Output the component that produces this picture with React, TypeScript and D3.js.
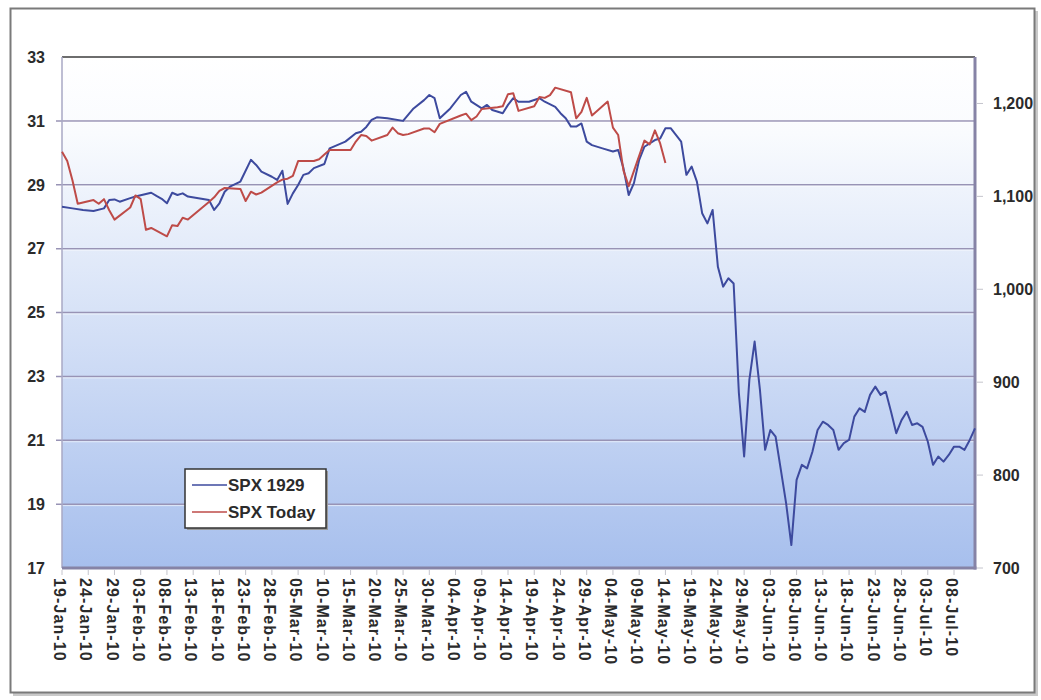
import React, { useEffect, useRef } from 'react';
import * as d3 from 'd3';

// date axis runs from the first 2010 session to 12-Jul
const axisStart = '2010-01-19';
const axisEnd = '2010-07-12';
const labelStepDays = 5;

// SPX 1929 (left axis), laid over the 2010 calendar
const spx1929Dates = [
  '2010-01-19', '2010-01-21', '2010-01-23', '2010-01-25', '2010-01-27', '2010-01-28', '2010-01-29', '2010-01-30',
  '2010-02-01', '2010-02-02', '2010-02-05', '2010-02-06', '2010-02-07', '2010-02-08', '2010-02-09', '2010-02-10',
  '2010-02-11', '2010-02-12', '2010-02-14', '2010-02-16', '2010-02-17', '2010-02-18', '2010-02-19', '2010-02-20',
  '2010-02-22', '2010-02-24', '2010-02-25', '2010-02-26', '2010-02-28',
  '2010-03-01', '2010-03-02', '2010-03-03', '2010-03-04', '2010-03-05', '2010-03-06', '2010-03-07', '2010-03-08',
  '2010-03-10', '2010-03-11', '2010-03-14', '2010-03-16', '2010-03-17', '2010-03-18', '2010-03-19', '2010-03-20',
  '2010-03-22', '2010-03-25', '2010-03-27', '2010-03-29', '2010-03-30', '2010-03-31',
  '2010-04-01', '2010-04-03', '2010-04-05', '2010-04-06', '2010-04-07', '2010-04-09', '2010-04-10', '2010-04-11',
  '2010-04-13', '2010-04-14', '2010-04-15', '2010-04-16', '2010-04-18', '2010-04-20', '2010-04-21', '2010-04-23',
  '2010-04-24', '2010-04-25', '2010-04-26', '2010-04-27', '2010-04-28', '2010-04-29', '2010-04-30',
  '2010-05-02', '2010-05-04', '2010-05-05', '2010-05-06', '2010-05-07', '2010-05-08', '2010-05-09', '2010-05-10',
  '2010-05-12', '2010-05-13', '2010-05-14', '2010-05-15', '2010-05-16', '2010-05-17', '2010-05-18', '2010-05-19',
  '2010-05-20', '2010-05-21', '2010-05-22', '2010-05-23', '2010-05-24', '2010-05-25', '2010-05-26', '2010-05-27',
  '2010-05-28', '2010-05-29', '2010-05-30', '2010-05-31',
  '2010-06-01', '2010-06-02', '2010-06-03', '2010-06-04', '2010-06-05', '2010-06-06', '2010-06-07', '2010-06-08',
  '2010-06-09', '2010-06-10', '2010-06-11', '2010-06-12', '2010-06-13', '2010-06-14', '2010-06-15', '2010-06-16',
  '2010-06-17', '2010-06-18', '2010-06-19', '2010-06-20', '2010-06-21', '2010-06-22', '2010-06-23', '2010-06-24',
  '2010-06-25', '2010-06-26', '2010-06-27', '2010-06-28', '2010-06-29', '2010-06-30',
  '2010-07-01', '2010-07-02', '2010-07-03', '2010-07-04', '2010-07-05', '2010-07-06', '2010-07-07', '2010-07-08',
  '2010-07-09', '2010-07-10', '2010-07-11', '2010-07-12'
];
const spx1929Values = [
  28.31, 28.26, 28.21, 28.18, 28.26, 28.52, 28.54, 28.47,
  28.58, 28.63, 28.75, 28.65, 28.56, 28.42, 28.75, 28.68,
  28.73, 28.63, 28.58, 28.52, 28.21, 28.42, 28.78, 28.94,
  29.10, 29.78, 29.62, 29.41, 29.25,
  29.15, 29.44, 28.40, 28.73, 28.99, 29.31, 29.36, 29.52,
  29.65, 30.14, 30.35, 30.61, 30.66, 30.81, 31.03, 31.11,
  31.08, 31.00, 31.39, 31.65, 31.81, 31.71,
  31.08, 31.39, 31.81, 31.91, 31.60, 31.39, 31.50, 31.34,
  31.24, 31.50, 31.71, 31.60, 31.60, 31.71, 31.60, 31.44,
  31.24, 31.08, 30.82, 30.82, 30.92, 30.35, 30.24,
  30.14, 30.04, 30.09, 29.52, 28.68, 29.05, 29.78, 30.19,
  30.40, 30.45, 30.77, 30.77, 30.56, 30.35, 29.31, 29.57,
  29.10, 28.11, 27.79, 28.21, 26.43, 25.81, 26.07, 25.91,
  22.48, 20.49, 22.90, 24.09,
  22.60, 20.70, 21.32, 21.11, 20.07, 19.03, 17.72, 19.76,
  20.23, 20.12, 20.63, 21.32, 21.58, 21.48, 21.32, 20.70,
  20.91, 21.01, 21.74, 22.00, 21.89, 22.42, 22.68, 22.42,
  22.52, 21.89, 21.22, 21.63, 21.89, 21.48,
  21.53, 21.42, 20.96, 20.23, 20.49, 20.33, 20.54, 20.80,
  20.80, 20.70, 21.01, 21.37
];

// SPX Today (right axis)
const spxTodayDates = [
  '2010-01-19', '2010-01-20', '2010-01-21', '2010-01-22', '2010-01-25', '2010-01-26', '2010-01-27', '2010-01-28', '2010-01-29',
  '2010-02-01', '2010-02-02', '2010-02-03', '2010-02-04', '2010-02-05', '2010-02-08', '2010-02-09', '2010-02-10',
  '2010-02-11', '2010-02-12', '2010-02-16', '2010-02-17', '2010-02-18', '2010-02-19', '2010-02-22', '2010-02-23',
  '2010-02-24', '2010-02-25', '2010-02-26',
  '2010-03-01', '2010-03-02', '2010-03-03', '2010-03-04', '2010-03-05', '2010-03-08', '2010-03-09', '2010-03-10',
  '2010-03-11', '2010-03-12', '2010-03-15', '2010-03-16', '2010-03-17', '2010-03-18', '2010-03-19', '2010-03-22',
  '2010-03-23', '2010-03-24', '2010-03-25', '2010-03-26', '2010-03-29', '2010-03-30', '2010-03-31',
  '2010-04-01', '2010-04-05', '2010-04-06', '2010-04-07', '2010-04-08', '2010-04-09', '2010-04-12', '2010-04-13',
  '2010-04-14', '2010-04-15', '2010-04-16', '2010-04-19', '2010-04-20', '2010-04-21', '2010-04-22', '2010-04-23',
  '2010-04-26', '2010-04-27', '2010-04-28', '2010-04-29', '2010-04-30',
  '2010-05-03', '2010-05-04', '2010-05-05', '2010-05-06', '2010-05-07', '2010-05-10', '2010-05-11', '2010-05-12',
  '2010-05-13', '2010-05-14'
];
const spxTodayValues = [
  1148, 1138, 1117, 1092, 1096, 1092, 1097, 1085, 1075,
  1088, 1101, 1097, 1064, 1066, 1057, 1069, 1068,
  1077, 1075, 1094, 1099, 1106, 1109, 1108, 1095,
  1105, 1102, 1104,
  1115, 1118, 1119, 1122, 1138, 1138, 1140, 1145,
  1150, 1150, 1150, 1159, 1166, 1165, 1160, 1166,
  1174, 1168, 1166, 1167, 1173, 1173, 1169,
  1178, 1187, 1189, 1182, 1186, 1194, 1196, 1197,
  1210, 1211, 1192, 1197, 1207, 1206, 1209, 1217,
  1212, 1184, 1191, 1206, 1187,
  1202, 1174, 1166, 1128, 1111, 1160, 1156, 1171,
  1157, 1136
];

const leftDomain = [17, 33];
const leftTicks = [17, 19, 21, 23, 25, 27, 29, 31, 33];
const rightDomain = [700, 1250];
const rightTicks = [700, 800, 900, 1000, 1100, 1200];
const seriesNames = ['SPX 1929', 'SPX Today'];

const App = () => {
  const ref = useRef<SVGSVGElement>(null);

  useEffect(() => {
    drawChart();
  }, []);

  const drawChart = () => {
    const width = 1041;
    const height = 700;
    const plot = { left: 62, top: 57, right: 975, bottom: 568 };
    const font = '"Liberation Sans", Arial, sans-serif';
    const textColor = '#2b2b2b';
    const blue = '#3d4a9e';
    const red = '#be4b48';

    const root = d3.select(ref.current);
    root.selectAll('*').remove();
    const svg = root.attr('width', width).attr('height', height);

    const parse = d3.timeParse('%Y-%m-%d');
    const start = parse(axisStart) as Date;
    const end = parse(axisEnd) as Date;
    const x = d3.scaleTime().domain([start, end]).range([plot.left, plot.right]);
    const yLeft = d3.scaleLinear().domain(leftDomain).range([plot.bottom, plot.top]);
    const yRight = d3.scaleLinear().domain(rightDomain).range([plot.bottom, plot.top]);

    const defs = svg.append('defs');
    const grad = defs.append('linearGradient')
      .attr('id', 'plotFill')
      .attr('x1', 0).attr('y1', 0).attr('x2', 0).attr('y2', 1);
    grad.append('stop').attr('offset', '0%').attr('stop-color', '#ffffff');
    grad.append('stop').attr('offset', '15%').attr('stop-color', '#f9fbfe');
    grad.append('stop').attr('offset', '100%').attr('stop-color', '#a7bfed');

    // chart area frame
    svg.append('rect')
      .attr('x', 0).attr('y', 0).attr('width', width).attr('height', height)
      .attr('fill', '#ffffff');
    svg.append('rect')
      .attr('x', 13).attr('y', 11).attr('width', 1025).attr('height', 685)
      .attr('fill', '#c9c9c9');
    svg.append('rect')
      .attr('x', 10.5).attr('y', 8.5).attr('width', 1024).attr('height', 684)
      .attr('fill', '#ffffff').attr('stroke', '#7a7a7a').attr('stroke-width', 2);

    // plot area
    svg.append('rect')
      .attr('x', plot.left).attr('y', plot.top)
      .attr('width', plot.right - plot.left).attr('height', plot.bottom - plot.top)
      .attr('fill', 'url(#plotFill)');

    // gridlines
    const grid = svg.append('g');
    leftTicks.filter(t => t !== leftDomain[0] && t !== leftDomain[1]).forEach(t => {
      grid.append('line')
        .attr('x1', plot.left - 6).attr('x2', plot.right)
        .attr('y1', yLeft(t)).attr('y2', yLeft(t))
        .attr('stroke', '#9893b5').attr('stroke-width', 1.5);
      grid.append('line')
        .attr('x1', plot.left).attr('x2', plot.right)
        .attr('y1', yLeft(t) + 1.5).attr('y2', yLeft(t) + 1.5)
        .attr('stroke', '#ffffff').attr('stroke-opacity', 0.6).attr('stroke-width', 1);
    });

    // plot border
    svg.append('line')
      .attr('x1', plot.left).attr('x2', plot.right).attr('y1', plot.top).attr('y2', plot.top)
      .attr('stroke', '#3c3c3c').attr('stroke-width', 1.5);
    svg.append('line')
      .attr('x1', plot.left).attr('x2', plot.left).attr('y1', plot.top).attr('y2', plot.bottom)
      .attr('stroke', '#a9a8c4').attr('stroke-width', 1.5);
    svg.append('line')
      .attr('x1', plot.right).attr('x2', plot.right).attr('y1', plot.top).attr('y2', plot.bottom + 1.5)
      .attr('stroke', '#8683a6').attr('stroke-width', 3);
    svg.append('line')
      .attr('x1', plot.left).attr('x2', plot.right + 1.5).attr('y1', plot.bottom).attr('y2', plot.bottom)
      .attr('stroke', '#8683a6').attr('stroke-width', 3);

    // left axis
    const leftAxis = svg.append('g');
    leftTicks.forEach(t => {
      leftAxis.append('text')
        .attr('x', 45).attr('y', yLeft(t))
        .attr('dy', '0.36em')
        .attr('text-anchor', 'end')
        .style('font-family', font).style('font-weight', 'bold').style('font-size', '16px')
        .attr('fill', textColor)
        .text(t);
    });

    // right axis
    const rightAxis = svg.append('g');
    const fmtRight = d3.format(',');
    rightTicks.forEach(t => {
      rightAxis.append('line')
        .attr('x1', plot.right + 2).attr('x2', plot.right + 8)
        .attr('y1', yRight(t)).attr('y2', yRight(t))
        .attr('stroke', '#c4c4cc').attr('stroke-width', 1);
      rightAxis.append('text')
        .attr('x', 993).attr('y', yRight(t))
        .attr('dy', '0.36em')
        .attr('text-anchor', 'start')
        .style('font-family', font).style('font-weight', 'bold').style('font-size', '16px')
        .attr('fill', textColor)
        .text(fmtRight(t));
    });

    // date axis, a label every 5 days
    const fmtDate = d3.timeFormat('%d-%b-%y');
    const labelDates = d3.timeDay.range(start, d3.timeDay.offset(end, -3), labelStepDays);
    const xAxis = svg.append('g');
    labelDates.forEach(d => {
      const px = x(d);
      xAxis.append('line')
        .attr('x1', px).attr('x2', px)
        .attr('y1', plot.bottom + 2).attr('y2', plot.bottom + 7)
        .attr('stroke', '#c4c4cc').attr('stroke-width', 1);
      xAxis.append('text')
        .attr('transform', `translate(${px - 2},${plot.bottom + 10}) rotate(90)`)
        .attr('dy', '0.36em')
        .attr('text-anchor', 'start')
        .style('font-family', font).style('font-weight', 'bold').style('font-size', '16px')
        .style('letter-spacing', '1.1px')
        .attr('fill', textColor)
        .text(fmtDate(d));
    });

    // series
    const blueData = spx1929Dates.map((d, i) => ({ date: parse(d) as Date, value: spx1929Values[i] }));
    const redData = spxTodayDates.map((d, i) => ({ date: parse(d) as Date, value: spxTodayValues[i] }));

    const lineLeft = d3.line<{ date: Date; value: number }>()
      .x(d => x(d.date))
      .y(d => yLeft(d.value));
    const lineRight = d3.line<{ date: Date; value: number }>()
      .x(d => x(d.date))
      .y(d => yRight(d.value));

    svg.append('path')
      .datum(blueData)
      .attr('d', lineLeft)
      .attr('fill', 'none')
      .attr('stroke', blue)
      .attr('stroke-width', 2)
      .attr('stroke-linejoin', 'round');

    svg.append('path')
      .datum(redData)
      .attr('d', lineRight)
      .attr('fill', 'none')
      .attr('stroke', red)
      .attr('stroke-width', 2)
      .attr('stroke-linejoin', 'round');

    // legend
    const legend = svg.append('g').attr('transform', 'translate(185,469)');
    legend.append('rect')
      .attr('x', 2).attr('y', 2).attr('width', 141).attr('height', 59)
      .attr('fill', '#9a9a9a');
    legend.append('rect')
      .attr('x', 0).attr('y', 0).attr('width', 141).attr('height', 59)
      .attr('fill', '#ffffff').attr('stroke', '#333333').attr('stroke-width', 1.5);
    [blue, red].forEach((c, i) => {
      const ly = 16 + i * 27;
      legend.append('line')
        .attr('x1', 7).attr('x2', 42).attr('y1', ly).attr('y2', ly)
        .attr('stroke', c).attr('stroke-width', 1.5);
      legend.append('text')
        .attr('x', 43).attr('y', ly)
        .attr('dy', '0.36em')
        .style('font-family', font).style('font-weight', 'bold').style('font-size', '17px')
        .attr('fill', textColor)
        .text(seriesNames[i]);
    });
  };

  return (
    <svg ref={ref} style={{ position: 'absolute', left: 0, top: 0, display: 'block' }}></svg>
  );
};

export default App;
